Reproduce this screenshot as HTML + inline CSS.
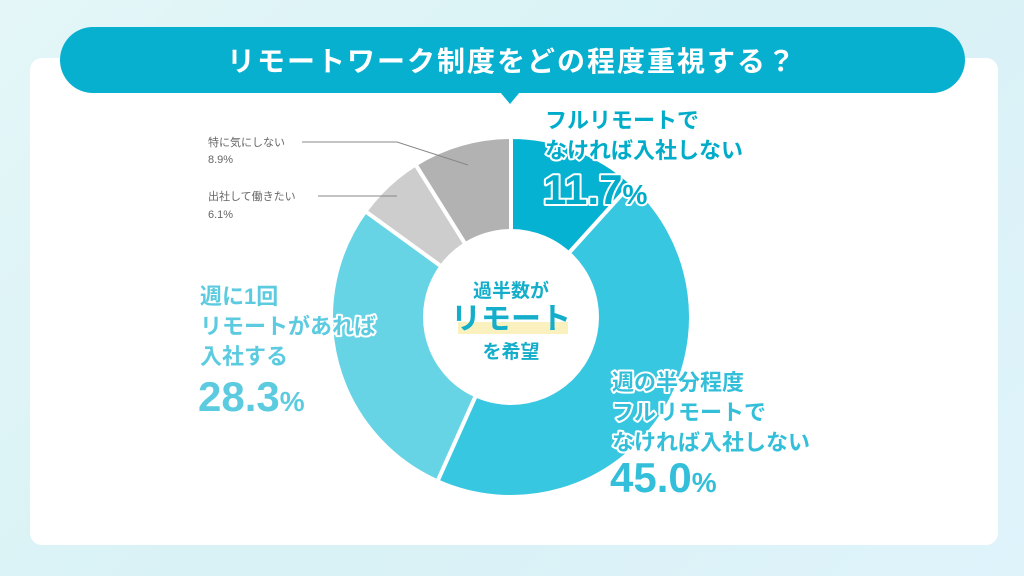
<!DOCTYPE html>
<html><head><meta charset="utf-8"><style>
body{margin:0;width:1024px;height:576px;overflow:hidden;background:linear-gradient(135deg,#e4f6f8,#d8f2f5 50%,#dff3fb);font-family:"Liberation Sans","Noto Sans CJK JP",sans-serif}
svg{display:block}
.o{paint-order:stroke;stroke:#fff;stroke-width:4;stroke-linejoin:round;font-weight:bold}
</style></head><body>
<svg id="c" width="1024" height="576">
<rect x="30" y="58" width="968" height="487" rx="12" fill="#fff"/>
<rect x="60" y="27" width="905" height="66" rx="33" fill="#07b0cf"/>
<polygon points="500,92 520,92 510,104" fill="#07b0cf"/>
<text x="512" y="71" text-anchor="middle" fill="#fff" font-size="28" font-weight="bold" letter-spacing="2">リモートワーク制度をどの程度重視する？</text>
<g id="slices"></g>
<circle cx="511" cy="317" r="88" fill="#fff"/>
<rect x="458" y="322" width="110" height="12" fill="#fbf1bf"/>
<text x="511" y="297" text-anchor="middle" fill="#14aecb" font-size="19" font-weight="bold">過半数が</text>
<text x="511" y="329" text-anchor="middle" fill="#14aecb" font-size="30" font-weight="bold">リモート</text>
<text x="511" y="358" text-anchor="middle" fill="#14aecb" font-size="19" font-weight="bold">を希望</text>
<g fill="#00acc9" font-size="22">
<text class="o" x="545" y="128">フルリモートで</text><text class="o" x="545" y="158">なければ入社しない</text>
<text class="o" x="543" y="204" font-size="42">11.7<tspan font-size="28">%</tspan></text></g>
<g fill="#33bfd9" font-size="22">
<text class="o" x="612" y="390">週の半分程度</text><text class="o" x="612" y="420">フルリモートで</text><text class="o" x="612" y="450">なければ入社しない</text>
<text class="o" x="610" y="492" font-size="42">45.0<tspan font-size="28">%</tspan></text></g>
<g fill="#5ccbe0" font-size="22">
<text class="o" x="200" y="304">週に1回</text><text class="o" x="200" y="334">リモートがあれば</text><text class="o" x="200" y="364">入社する</text>
<text class="o" x="198" y="411" font-size="42">28.3<tspan font-size="28">%</tspan></text></g>
<g fill="#666" font-size="11">
<text x="208" y="146">特に気にしない</text><text x="208" y="163">8.9%</text>
<text x="208" y="200">出社して働きたい</text><text x="208" y="218">6.1%</text></g>
<polyline points="302,142 397,142 468,165" fill="none" stroke="#888" stroke-width="1"/>
<line x1="318" y1="196" x2="397" y2="196" stroke="#888" stroke-width="1"/>
</svg>
<script>
const categories=["フルリモートでなければ入社しない","週の半分程度フルリモートでなければ入社しない","週に1回リモートがあれば入社する","出社して働きたい","特に気にしない"];
const values=[11.7,45.0,28.3,6.1,8.9];
const colors=["#05b2d1","#38c7e0","#67d4e5","#cdcdcd","#b2b2b2"];
const cx=511,cy=317,R=180;
const g=document.getElementById('slices');
const tot=values.reduce((a,b)=>a+b,0);
let a=0;
values.forEach((v,i)=>{
  const a0=a/tot*2*Math.PI,a1=(a+v)/tot*2*Math.PI;a+=v;
  const p=(t)=>[cx+R*Math.sin(t),cy-R*Math.cos(t)];
  const [x0,y0]=p(a0),[x1,y1]=p(a1);
  const el=document.createElementNS('http://www.w3.org/2000/svg','path');
  el.setAttribute('d',`M${cx},${cy}L${x0},${y0}A${R},${R} 0 ${a1-a0>Math.PI?1:0} 1 ${x1},${y1}Z`);
  el.setAttribute('fill',colors[i]);el.setAttribute('stroke','#fff');el.setAttribute('stroke-width','4');
  
  
  g.appendChild(el);
});
</script>
</body></html>
